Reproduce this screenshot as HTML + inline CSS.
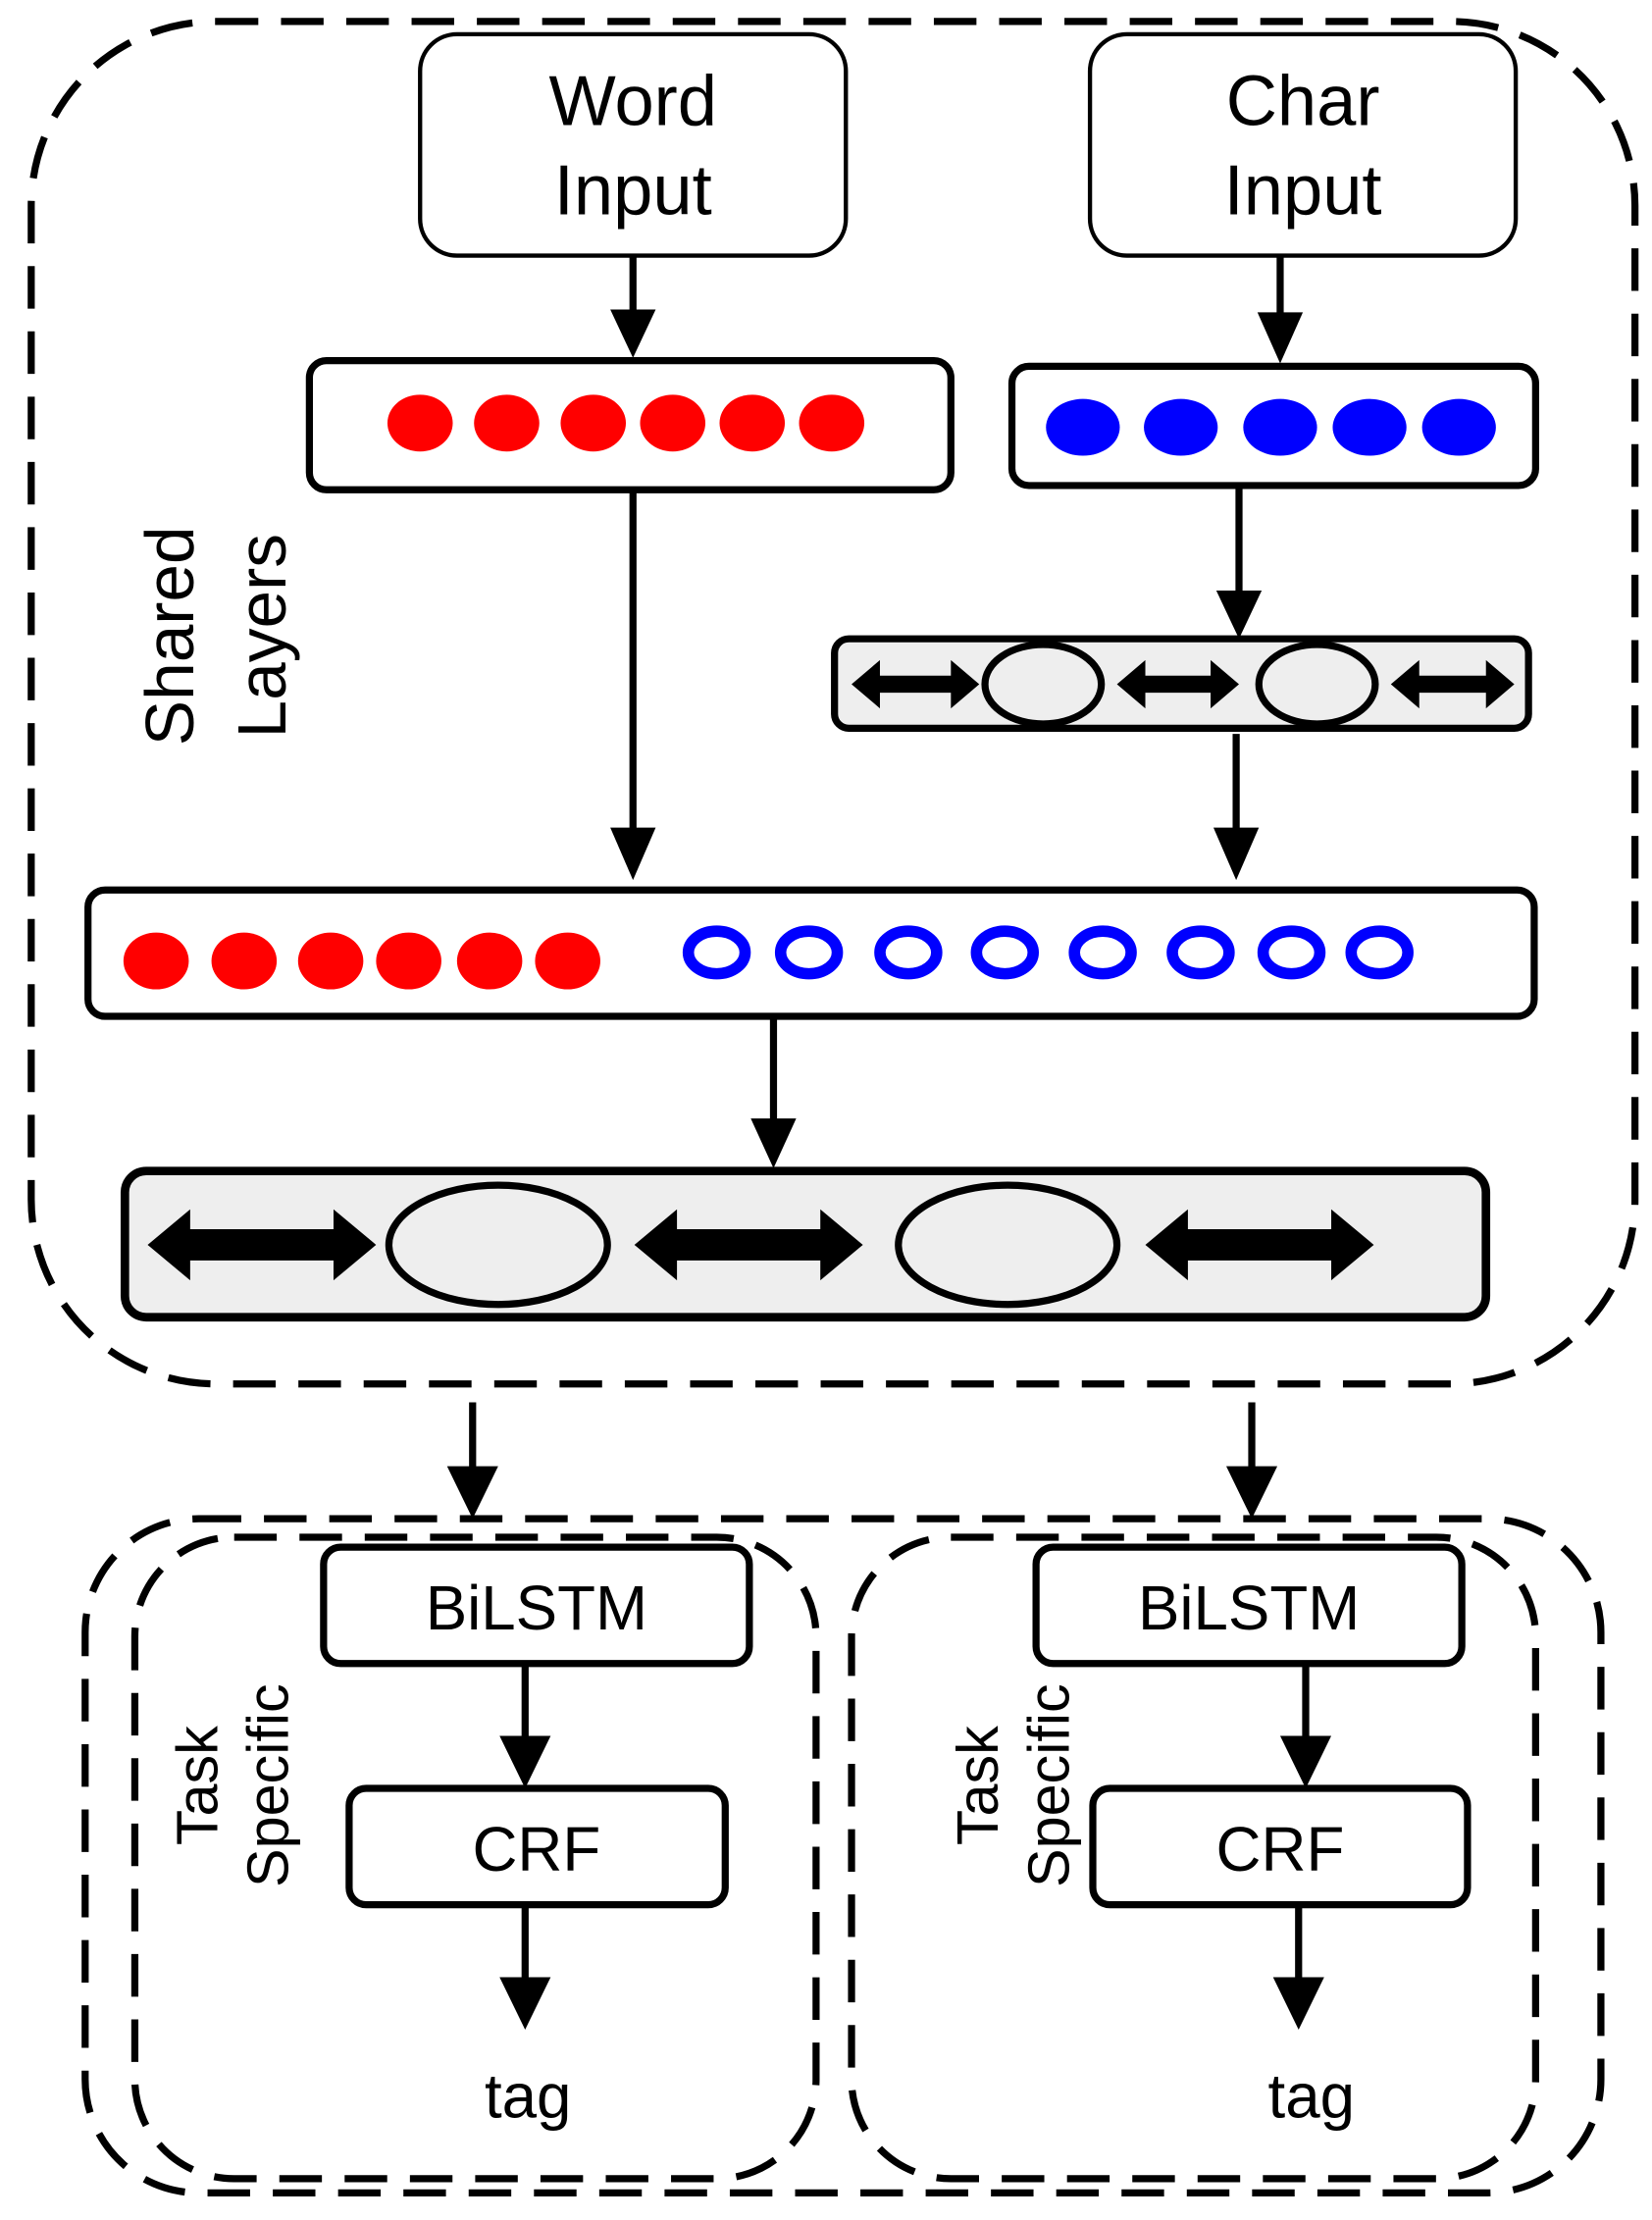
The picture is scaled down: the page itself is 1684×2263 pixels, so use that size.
<!DOCTYPE html>
<html><head><meta charset="utf-8"><style>
html,body{margin:0;padding:0;background:#fff;}
svg{display:block;}
text{font-family:"Liberation Sans",sans-serif;fill:#000;}
</style></head><body>
<svg width="1684" height="2263" viewBox="0 0 1164 1564" xmlns="http://www.w3.org/2000/svg">
<!-- outer dashed shared -->
<rect x="22" y="15" width="1130" height="960" rx="130" fill="none" stroke="#000" stroke-width="5" stroke-dasharray="30,16"/>
<!-- inputs -->
<rect x="296" y="24" width="300" height="156" rx="26" fill="#fff" stroke="#000" stroke-width="3"/>
<text x="446" y="88" font-size="50" text-anchor="middle">Word</text>
<text x="446" y="151" font-size="50" text-anchor="middle">Input</text>
<rect x="768" y="24" width="300" height="156" rx="26" fill="#fff" stroke="#000" stroke-width="3"/>
<text x="918" y="88" font-size="50" text-anchor="middle">Char</text>
<text x="918" y="151" font-size="50" text-anchor="middle">Input</text>
<g stroke="#000" stroke-width="5">
<line x1="446" y1="180" x2="446" y2="220"/>
<line x1="902" y1="180" x2="902" y2="222"/>
<line x1="446" y1="345" x2="446" y2="585"/>
<line x1="873" y1="342" x2="873" y2="418"/>
<line x1="871" y1="517" x2="871" y2="585"/>
<line x1="545" y1="716" x2="545" y2="790"/>
<line x1="333" y1="988" x2="333" y2="1035"/>
<line x1="882" y1="988" x2="882" y2="1035"/>
<line x1="370" y1="1172" x2="370" y2="1225"/>
<line x1="920" y1="1172" x2="920" y2="1225"/>
<line x1="370" y1="1342" x2="370" y2="1395"/>
<line x1="915" y1="1342" x2="915" y2="1395"/>
</g>
<g fill="#000">
<polygon points="430,218 462,218 446,252"/>
<polygon points="886,220 918,220 902,256"/>
<polygon points="430,583 462,583 446,620"/>
<polygon points="857,416 889,416 873,450"/>
<polygon points="855,583 887,583 871,620"/>
<polygon points="529,788 561,788 545,823"/>
<polygon points="315,1033 351,1033 333,1070"/>
<polygon points="864,1033 900,1033 882,1070"/>
<polygon points="352,1223 388,1223 370,1260"/>
<polygon points="902,1223 938,1223 920,1260"/>
<polygon points="352,1393 388,1393 370,1430"/>
<polygon points="897,1393 933,1393 915,1430"/>
</g>
<rect x="218" y="254" width="452" height="91" rx="12" fill="#fff" stroke="#000" stroke-width="5"/>
<g fill="#f00">
<ellipse cx="296" cy="298" rx="23" ry="20"/><ellipse cx="357" cy="298" rx="23" ry="20"/>
<ellipse cx="418" cy="298" rx="23" ry="20"/><ellipse cx="474" cy="298" rx="23" ry="20"/>
<ellipse cx="530" cy="298" rx="23" ry="20"/><ellipse cx="586" cy="298" rx="23" ry="20"/>
</g>
<rect x="713" y="258" width="369" height="84" rx="12" fill="#fff" stroke="#000" stroke-width="5"/>
<g fill="#00f">
<ellipse cx="763" cy="301" rx="26" ry="20"/><ellipse cx="832" cy="301" rx="26" ry="20"/>
<ellipse cx="902" cy="301" rx="26" ry="20"/><ellipse cx="965" cy="301" rx="26" ry="20"/>
<ellipse cx="1028" cy="301" rx="26" ry="20"/>
</g>
<rect x="588" y="450" width="489" height="63" rx="10" fill="#eee" stroke="#000" stroke-width="5"/>
<ellipse cx="735" cy="482" rx="41" ry="28" fill="#eee" stroke="#000" stroke-width="5"/>
<ellipse cx="928" cy="482" rx="41" ry="28" fill="#eee" stroke="#000" stroke-width="5"/>
<g fill="#000">
<polygon points="600,482 620,465 620,476 670,476 670,465 690,482 670,499 670,488 620,488 620,499"/>
<polygon points="787,482 807,465 807,476 853,476 853,465 873,482 853,499 853,488 807,488 807,499"/>
<polygon points="980,482 1000,465 1000,476 1047,476 1047,465 1067,482 1047,499 1047,488 1000,488 1000,499"/>
</g>
<rect x="62" y="627" width="1019" height="89" rx="12" fill="#fff" stroke="#000" stroke-width="5"/>
<g fill="#f00">
<ellipse cx="110" cy="677" rx="23" ry="20"/><ellipse cx="172" cy="677" rx="23" ry="20"/>
<ellipse cx="233" cy="677" rx="23" ry="20"/><ellipse cx="288" cy="677" rx="23" ry="20"/>
<ellipse cx="345" cy="677" rx="23" ry="20"/><ellipse cx="400" cy="677" rx="23" ry="20"/>
</g>
<g fill="none" stroke="#00f" stroke-width="8">
<ellipse cx="505" cy="671" rx="20" ry="15"/><ellipse cx="570" cy="671" rx="20" ry="15"/>
<ellipse cx="640" cy="671" rx="20" ry="15"/><ellipse cx="708" cy="671" rx="20" ry="15"/>
<ellipse cx="777" cy="671" rx="20" ry="15"/><ellipse cx="846" cy="671" rx="20" ry="15"/>
<ellipse cx="910" cy="671" rx="20" ry="15"/><ellipse cx="972" cy="671" rx="20" ry="15"/>
</g>
<rect x="88" y="825" width="959" height="103" rx="15" fill="#eee" stroke="#000" stroke-width="6"/>
<ellipse cx="351" cy="877" rx="77" ry="42" fill="#eee" stroke="#000" stroke-width="5"/>
<ellipse cx="710" cy="877" rx="77" ry="42" fill="#eee" stroke="#000" stroke-width="5"/>
<g fill="#000">
<polygon points="104,877 134,852 134,866 235,866 235,852 265,877 235,902 235,888 134,888 134,902"/>
<polygon points="447,877 477,852 477,866 578,866 578,852 608,877 578,902 578,888 477,888 477,902"/>
<polygon points="807,877 837,852 837,866 938,866 938,852 968,877 938,902 938,888 837,888 837,902"/>
</g>
<text transform="translate(136,448) rotate(-90)" font-size="48" text-anchor="middle">Shared</text>
<text transform="translate(201,448) rotate(-90)" font-size="48" text-anchor="middle">Layers</text>
<g fill="none" stroke="#000" stroke-width="5" stroke-dasharray="30,16">
<rect x="60" y="1070" width="1068" height="475" rx="80"/>
<rect x="95" y="1083" width="480" height="452" rx="70"/>
<rect x="600" y="1083" width="482" height="452" rx="70"/>
</g>
<rect x="228" y="1090" width="300" height="82" rx="12" fill="#fff" stroke="#000" stroke-width="5"/>
<text x="378" y="1148" font-size="44" text-anchor="middle">BiLSTM</text>
<rect x="730" y="1090" width="300" height="82" rx="12" fill="#fff" stroke="#000" stroke-width="5"/>
<text x="880" y="1148" font-size="44" text-anchor="middle">BiLSTM</text>
<rect x="246" y="1260" width="265" height="82" rx="12" fill="#fff" stroke="#000" stroke-width="5"/>
<text x="378" y="1318" font-size="44" text-anchor="middle">CRF</text>
<rect x="770" y="1260" width="264" height="82" rx="12" fill="#fff" stroke="#000" stroke-width="5"/>
<text x="902" y="1318" font-size="44" text-anchor="middle">CRF</text>
<text x="372" y="1492" font-size="44" text-anchor="middle">tag</text>
<text x="924" y="1492" font-size="44" text-anchor="middle">tag</text>
<text transform="translate(153,1258) rotate(-90)" font-size="41" text-anchor="middle">Task</text>
<text transform="translate(203,1258) rotate(-90)" font-size="41" text-anchor="middle">Specific</text>
<text transform="translate(703,1258) rotate(-90)" font-size="41" text-anchor="middle">Task</text>
<text transform="translate(753,1258) rotate(-90)" font-size="41" text-anchor="middle">Specific</text>
</svg>
</body></html>
